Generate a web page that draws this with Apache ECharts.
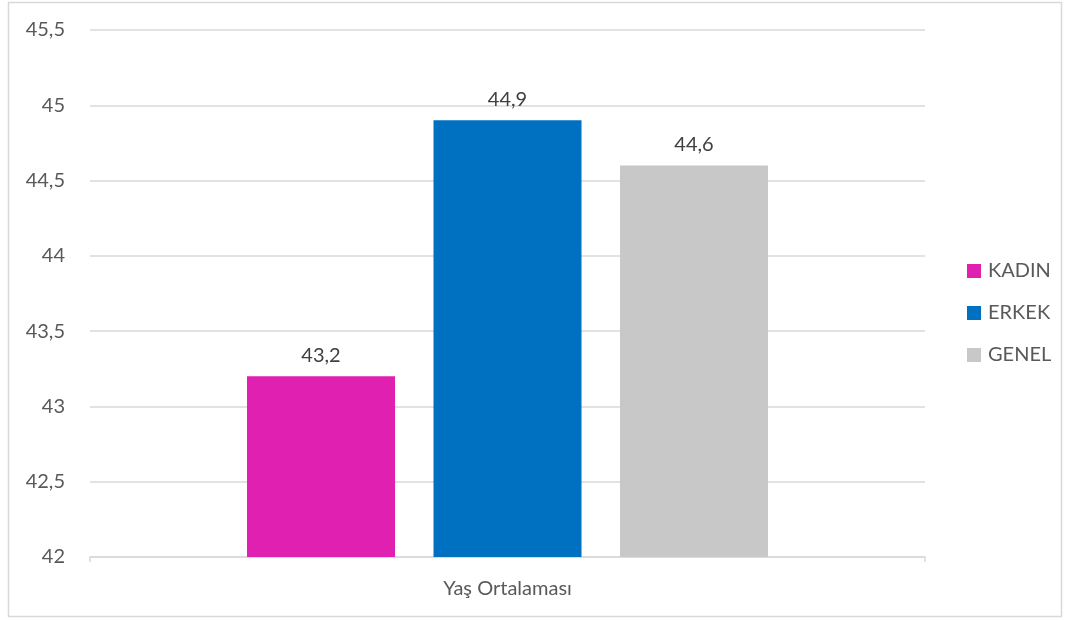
<!DOCTYPE html>
<html><head><meta charset="utf-8">
<script src="https://cdn.jsdelivr.net/npm/echarts@6/dist/echarts.min.js"></script>
<style>html,body{margin:0;padding:0;background:#fff}#c{width:1069px;height:620px}</style>
</head><body><div id="c"></div>
<script>
var categories = ['Yaş Ortalaması'];
var seriesNames = ['KADIN', 'ERKEK', 'GENEL'];
var kadin = [43.2];
var erkek = [44.9];
var genel = [44.6];
var colors = ['#E020B0', '#0070C0', '#C8C8C8'];
var fontFam = 'Lato, "Open Sans", sans-serif';
function fmt(v){ return String(v).replace('.', ','); }
var chart = echarts.init(document.getElementById('c'), null, {renderer:'canvas'});
var data = [kadin, erkek, genel];
chart.setOption({
  animation:false,
  textStyle:{fontFamily:fontFam},
  graphic:[{type:'rect', shape:{x:8.5,y:2.5,width:1053,height:614}, style:{fill:'none', stroke:'#d9d9d9', lineWidth:1.5}, silent:true}],
  legend:{orient:'vertical', left:962, top:256, itemWidth:14, itemHeight:14, itemGap:22, icon:'rect',
    padding:5,
    textStyle:{color:'#595959', fontSize:20, fontFamily:fontFam, padding:[0,0,0,2]}, data:seriesNames},
  grid:{left:90, right:144, top:30, bottom:63},
  xAxis:{type:'category', data:categories,
    axisLine:{lineStyle:{color:'#d9d9d9', width:1.5}},
    axisTick:{show:true, length:5, lineStyle:{color:'#d9d9d9', width:1.5}},
    axisLabel:{color:'#595959', fontSize:20, margin:22, fontFamily:fontFam}},
  yAxis:{type:'value', min:42, max:45.5, interval:0.5,
    axisLine:{show:false}, axisTick:{show:false},
    splitLine:{lineStyle:{color:'#d9d9d9', width:1.5}},
    axisLabel:{color:'#595959', fontSize:20, margin:25, fontFamily:fontFam, formatter:function(v){return fmt(v);}}},
  series: seriesNames.map(function(n,i){
    return {name:n, type:'bar', data:data[i], barWidth:148, barGap:'26%',
      itemStyle:{color:colors[i]},
      label:{show:true, position:'top', distance:11, color:'#404040', fontSize:20, fontFamily:fontFam, formatter:function(p){return fmt(p.value);}}};
  })
});
</script></body></html>
